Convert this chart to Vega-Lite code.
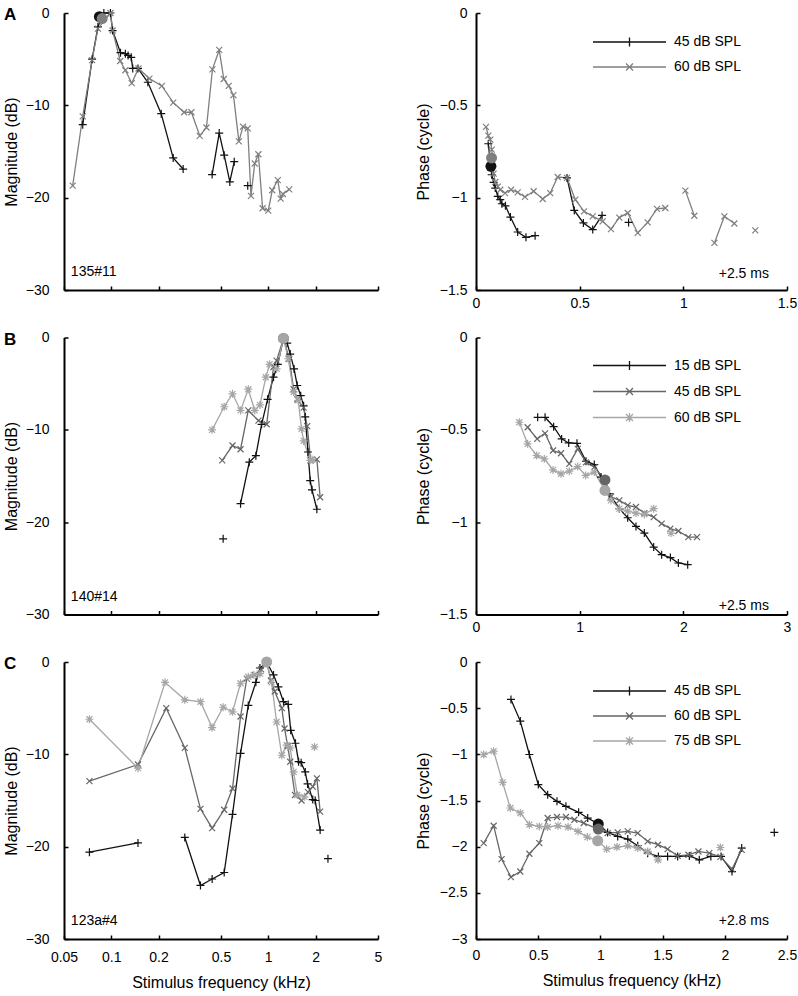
{
"$schema": "https://vega.github.io/schema/vega-lite/v6.json",
"padding": {"left": 3, "top": 6, "right": 5, "bottom": 5},
"background": "white",
"config": {
 "font": "Liberation Sans",
 "view": {"stroke": null},
 "axis": {"grid": false, "domainColor": "#000", "domainWidth": 2, "tickColor": "#000", "tickWidth": 1.5, "tickSize": -4, "labelColor": "#000", "labelFontSize": 14, "labelFont": "Liberation Sans", "titleFont": "Liberation Sans", "titleFontSize": 16, "titleFontWeight": "normal", "titleColor": "#000", "labelFlush": false, "labelOverlap": false},
 "legend": {"labelFontSize": 14, "labelColor": "#000", "labelFont": "Liberation Sans"},
 "text": {"font": "Liberation Sans", "fontSize": 14, "color": "#000"}
},
"datasets": {
 "magA": [
  {"f":0.0658,"v":-12.1,"lev":"45 dB SPL","seg":1},{"f":0.0755,"v":-5.0,"lev":"45 dB SPL","seg":1},{"f":0.0822,"v":-1.5,"lev":"45 dB SPL","seg":1},{"f":0.0897,"v":0,"lev":"45 dB SPL","seg":1},{"f":0.0988,"v":0,"lev":"45 dB SPL","seg":1},{"f":0.102,"v":-1.9,"lev":"45 dB SPL","seg":1},{"f":0.1145,"v":-4.3,"lev":"45 dB SPL","seg":1},{"f":0.123,"v":-4.4,"lev":"45 dB SPL","seg":1},{"f":0.128,"v":-4.6,"lev":"45 dB SPL","seg":1},{"f":0.134,"v":-4.8,"lev":"45 dB SPL","seg":1},{"f":0.137,"v":-6.0,"lev":"45 dB SPL","seg":1},{"f":0.148,"v":-6.0,"lev":"45 dB SPL","seg":1},{"f":0.171,"v":-7.5,"lev":"45 dB SPL","seg":1},{"f":0.208,"v":-10.9,"lev":"45 dB SPL","seg":1},{"f":0.248,"v":-15.7,"lev":"45 dB SPL","seg":1},{"f":0.287,"v":-16.9,"lev":"45 dB SPL","seg":1},
  {"f":0.439,"v":-17.5,"lev":"45 dB SPL","seg":2},{"f":0.487,"v":-13.0,"lev":"45 dB SPL","seg":2},{"f":0.524,"v":-15.4,"lev":"45 dB SPL","seg":2},{"f":0.569,"v":-18.3,"lev":"45 dB SPL","seg":2},{"f":0.607,"v":-16.1,"lev":"45 dB SPL","seg":2},
  {"f":0.74,"v":-18.7,"lev":"45 dB SPL","seg":3},
  {"f":0.0568,"v":-18.7,"lev":"60 dB SPL","seg":1},{"f":0.0658,"v":-11.2,"lev":"60 dB SPL","seg":1},{"f":0.0755,"v":-5.1,"lev":"60 dB SPL","seg":1},{"f":0.0822,"v":-1.7,"lev":"60 dB SPL","seg":1},{"f":0.0988,"v":0,"lev":"60 dB SPL","seg":1},{"f":0.102,"v":-1.9,"lev":"60 dB SPL","seg":1},{"f":0.114,"v":-5.2,"lev":"60 dB SPL","seg":1},{"f":0.123,"v":-6.2,"lev":"60 dB SPL","seg":1},{"f":0.135,"v":-7.6,"lev":"60 dB SPL","seg":1},{"f":0.149,"v":-6.0,"lev":"60 dB SPL","seg":1},{"f":0.175,"v":-7.1,"lev":"60 dB SPL","seg":1},{"f":0.21,"v":-7.9,"lev":"60 dB SPL","seg":1},{"f":0.248,"v":-9.7,"lev":"60 dB SPL","seg":1},{"f":0.291,"v":-10.75,"lev":"60 dB SPL","seg":1},{"f":0.324,"v":-10.75,"lev":"60 dB SPL","seg":1},{"f":0.366,"v":-13.3,"lev":"60 dB SPL","seg":1},{"f":0.404,"v":-12.4,"lev":"60 dB SPL","seg":1},{"f":0.441,"v":-6.1,"lev":"60 dB SPL","seg":1},{"f":0.487,"v":-4.0,"lev":"60 dB SPL","seg":1},{"f":0.521,"v":-7.15,"lev":"60 dB SPL","seg":1},{"f":0.56,"v":-7.9,"lev":"60 dB SPL","seg":1},{"f":0.6,"v":-8.9,"lev":"60 dB SPL","seg":1},{"f":0.65,"v":-13.9,"lev":"60 dB SPL","seg":1},{"f":0.69,"v":-12.3,"lev":"60 dB SPL","seg":1},{"f":0.74,"v":-12.5,"lev":"60 dB SPL","seg":1},{"f":0.776,"v":-19.8,"lev":"60 dB SPL","seg":1},{"f":0.82,"v":-16.3,"lev":"60 dB SPL","seg":1},{"f":0.865,"v":-15.3,"lev":"60 dB SPL","seg":1},{"f":0.92,"v":-21.15,"lev":"60 dB SPL","seg":1},{"f":1.0,"v":-21.4,"lev":"60 dB SPL","seg":1},{"f":1.06,"v":-19.2,"lev":"60 dB SPL","seg":1},{"f":1.15,"v":-18.1,"lev":"60 dB SPL","seg":1},{"f":1.2,"v":-20.1,"lev":"60 dB SPL","seg":1},{"f":1.24,"v":-19.6,"lev":"60 dB SPL","seg":1},{"f":1.36,"v":-19.1,"lev":"60 dB SPL","seg":1}
 ],
 "phA": [
  {"f":0.0595,"v":-0.708,"lev":"45 dB SPL","seg":1},{"f":0.0756,"v":-0.876,"lev":"45 dB SPL","seg":1},{"f":0.085,"v":-0.917,"lev":"45 dB SPL","seg":1},{"f":0.093,"v":-0.948,"lev":"45 dB SPL","seg":1},{"f":0.105,"v":-0.993,"lev":"45 dB SPL","seg":1},{"f":0.117,"v":-1.011,"lev":"45 dB SPL","seg":1},{"f":0.125,"v":-1.033,"lev":"45 dB SPL","seg":1},{"f":0.142,"v":-1.044,"lev":"45 dB SPL","seg":1},{"f":0.166,"v":-1.105,"lev":"45 dB SPL","seg":1},{"f":0.201,"v":-1.186,"lev":"45 dB SPL","seg":1},{"f":0.241,"v":-1.215,"lev":"45 dB SPL","seg":1},{"f":0.285,"v":-1.206,"lev":"45 dB SPL","seg":1},
  {"f":0.439,"v":-0.893,"lev":"45 dB SPL","seg":2},{"f":0.474,"v":-1.069,"lev":"45 dB SPL","seg":2},{"f":0.518,"v":-1.137,"lev":"45 dB SPL","seg":2},{"f":0.563,"v":-1.173,"lev":"45 dB SPL","seg":2},{"f":0.608,"v":-1.096,"lev":"45 dB SPL","seg":2},
  {"f":0.736,"v":-1.134,"lev":"45 dB SPL","seg":3},
  {"f":0.048,"v":-0.617,"lev":"60 dB SPL","seg":1},{"f":0.0595,"v":-0.664,"lev":"60 dB SPL","seg":1},{"f":0.069,"v":-0.686,"lev":"60 dB SPL","seg":1},{"f":0.076,"v":-0.74,"lev":"60 dB SPL","seg":1},{"f":0.085,"v":-0.87,"lev":"60 dB SPL","seg":1},{"f":0.093,"v":-0.915,"lev":"60 dB SPL","seg":1},{"f":0.105,"v":-0.94,"lev":"60 dB SPL","seg":1},{"f":0.117,"v":-0.957,"lev":"60 dB SPL","seg":1},{"f":0.14,"v":-0.975,"lev":"60 dB SPL","seg":1},{"f":0.169,"v":-0.957,"lev":"60 dB SPL","seg":1},{"f":0.201,"v":-0.971,"lev":"60 dB SPL","seg":1},{"f":0.236,"v":-0.996,"lev":"60 dB SPL","seg":1},{"f":0.278,"v":-0.965,"lev":"60 dB SPL","seg":1},{"f":0.322,"v":-1.007,"lev":"60 dB SPL","seg":1},{"f":0.358,"v":-0.975,"lev":"60 dB SPL","seg":1},{"f":0.394,"v":-0.888,"lev":"60 dB SPL","seg":1},{"f":0.439,"v":-0.893,"lev":"60 dB SPL","seg":1},{"f":0.479,"v":-1.011,"lev":"60 dB SPL","seg":1},{"f":0.521,"v":-1.074,"lev":"60 dB SPL","seg":1},{"f":0.563,"v":-1.101,"lev":"60 dB SPL","seg":1},{"f":0.611,"v":-1.128,"lev":"60 dB SPL","seg":1},{"f":0.651,"v":-1.17,"lev":"60 dB SPL","seg":1},{"f":0.691,"v":-1.108,"lev":"60 dB SPL","seg":1},{"f":0.732,"v":-1.083,"lev":"60 dB SPL","seg":1},{"f":0.78,"v":-1.191,"lev":"60 dB SPL","seg":1},{"f":0.828,"v":-1.134,"lev":"60 dB SPL","seg":1},{"f":0.873,"v":-1.061,"lev":"60 dB SPL","seg":1},{"f":0.913,"v":-1.056,"lev":"60 dB SPL","seg":1},
  {"f":1.01,"v":-0.962,"lev":"60 dB SPL","seg":2},{"f":1.053,"v":-1.098,"lev":"60 dB SPL","seg":2},
  {"f":1.15,"v":-1.245,"lev":"60 dB SPL","seg":3},{"f":1.198,"v":-1.101,"lev":"60 dB SPL","seg":3},{"f":1.246,"v":-1.14,"lev":"60 dB SPL","seg":3},
  {"f":1.347,"v":-1.177,"lev":"60 dB SPL","seg":4}
 ],
 "magB": [
  {"f":0.516,"v":-21.8,"lev":"15 dB SPL","seg":1},
  {"f":0.666,"v":-18.0,"lev":"15 dB SPL","seg":2},{"f":0.757,"v":-13.5,"lev":"15 dB SPL","seg":2},{"f":0.834,"v":-12.8,"lev":"15 dB SPL","seg":2},{"f":0.907,"v":-9.4,"lev":"15 dB SPL","seg":2},{"f":0.99,"v":-6.7,"lev":"15 dB SPL","seg":2},{"f":1.08,"v":-4.3,"lev":"15 dB SPL","seg":2},{"f":1.15,"v":-2.9,"lev":"15 dB SPL","seg":2},{"f":1.25,"v":-0.1,"lev":"15 dB SPL","seg":2},{"f":1.32,"v":-0.6,"lev":"15 dB SPL","seg":2},{"f":1.38,"v":-1.8,"lev":"15 dB SPL","seg":2},{"f":1.46,"v":-3.4,"lev":"15 dB SPL","seg":2},{"f":1.53,"v":-5.2,"lev":"15 dB SPL","seg":2},{"f":1.61,"v":-6.3,"lev":"15 dB SPL","seg":2},{"f":1.68,"v":-7.4,"lev":"15 dB SPL","seg":2},{"f":1.72,"v":-8.6,"lev":"15 dB SPL","seg":2},{"f":1.79,"v":-12.4,"lev":"15 dB SPL","seg":2},{"f":1.85,"v":-15.5,"lev":"15 dB SPL","seg":2},{"f":1.9,"v":-16.5,"lev":"15 dB SPL","seg":2},{"f":2.04,"v":-18.6,"lev":"15 dB SPL","seg":2},
  {"f":0.509,"v":-13.3,"lev":"45 dB SPL","seg":1},{"f":0.592,"v":-11.7,"lev":"45 dB SPL","seg":1},{"f":0.666,"v":-12.1,"lev":"45 dB SPL","seg":1},{"f":0.746,"v":-7.9,"lev":"45 dB SPL","seg":1},{"f":0.866,"v":-9.0,"lev":"45 dB SPL","seg":1},{"f":0.977,"v":-9.4,"lev":"45 dB SPL","seg":1},{"f":1.08,"v":-3.2,"lev":"45 dB SPL","seg":1},{"f":1.13,"v":-2.5,"lev":"45 dB SPL","seg":1},{"f":1.25,"v":-0.1,"lev":"45 dB SPL","seg":1},{"f":1.36,"v":-2.3,"lev":"45 dB SPL","seg":1},{"f":1.45,"v":-5.6,"lev":"45 dB SPL","seg":1},{"f":1.53,"v":-6.7,"lev":"45 dB SPL","seg":1},{"f":1.68,"v":-7.6,"lev":"45 dB SPL","seg":1},{"f":1.77,"v":-9.6,"lev":"45 dB SPL","seg":1},{"f":1.86,"v":-13.3,"lev":"45 dB SPL","seg":1},{"f":2.04,"v":-13.2,"lev":"45 dB SPL","seg":1},{"f":2.14,"v":-17.3,"lev":"45 dB SPL","seg":1},
  {"f":0.439,"v":-10.0,"lev":"60 dB SPL","seg":1},{"f":0.524,"v":-7.5,"lev":"60 dB SPL","seg":1},{"f":0.592,"v":-6.1,"lev":"60 dB SPL","seg":1},{"f":0.666,"v":-7.9,"lev":"60 dB SPL","seg":1},{"f":0.746,"v":-5.6,"lev":"60 dB SPL","seg":1},{"f":0.82,"v":-7.9,"lev":"60 dB SPL","seg":1},{"f":0.885,"v":-7.3,"lev":"60 dB SPL","seg":1},{"f":0.965,"v":-4.3,"lev":"60 dB SPL","seg":1},{"f":1.02,"v":-2.9,"lev":"60 dB SPL","seg":1},{"f":1.13,"v":-3.4,"lev":"60 dB SPL","seg":1},{"f":1.25,"v":-0.1,"lev":"60 dB SPL","seg":1},{"f":1.34,"v":-2.3,"lev":"60 dB SPL","seg":1},{"f":1.45,"v":-5.9,"lev":"60 dB SPL","seg":1},{"f":1.55,"v":-6.8,"lev":"60 dB SPL","seg":1},{"f":1.63,"v":-9.9,"lev":"60 dB SPL","seg":1},{"f":1.68,"v":-11.2,"lev":"60 dB SPL","seg":1},{"f":1.85,"v":-13.3,"lev":"60 dB SPL","seg":1},{"f":1.9,"v":-13.2,"lev":"60 dB SPL","seg":1}
 ],
 "phB": [
  {"f":0.595,"v":-0.432,"lev":"15 dB SPL","seg":1},
  {"f":0.666,"v":-0.432,"lev":"15 dB SPL","seg":2},{"f":0.749,"v":-0.483,"lev":"15 dB SPL","seg":2},{"f":0.826,"v":-0.549,"lev":"15 dB SPL","seg":2},{"f":0.894,"v":-0.571,"lev":"15 dB SPL","seg":2},{"f":0.974,"v":-0.573,"lev":"15 dB SPL","seg":2},{"f":1.061,"v":-0.67,"lev":"15 dB SPL","seg":2},{"f":1.141,"v":-0.688,"lev":"15 dB SPL","seg":2},{"f":1.206,"v":-0.756,"lev":"15 dB SPL","seg":2},{"f":1.286,"v":-0.846,"lev":"15 dB SPL","seg":2},{"f":1.383,"v":-0.927,"lev":"15 dB SPL","seg":2},{"f":1.463,"v":-0.976,"lev":"15 dB SPL","seg":2},{"f":1.543,"v":-1.023,"lev":"15 dB SPL","seg":2},{"f":1.624,"v":-1.059,"lev":"15 dB SPL","seg":2},{"f":1.714,"v":-1.135,"lev":"15 dB SPL","seg":2},{"f":1.791,"v":-1.176,"lev":"15 dB SPL","seg":2},{"f":1.875,"v":-1.192,"lev":"15 dB SPL","seg":2},{"f":1.952,"v":-1.221,"lev":"15 dB SPL","seg":2},{"f":2.042,"v":-1.23,"lev":"15 dB SPL","seg":2},
  {"f":0.498,"v":-0.486,"lev":"45 dB SPL","seg":1},{"f":0.59,"v":-0.549,"lev":"45 dB SPL","seg":1},{"f":0.666,"v":-0.519,"lev":"45 dB SPL","seg":1},{"f":0.743,"v":-0.612,"lev":"45 dB SPL","seg":1},{"f":0.82,"v":-0.627,"lev":"45 dB SPL","seg":1},{"f":0.9,"v":-0.684,"lev":"45 dB SPL","seg":1},{"f":0.981,"v":-0.603,"lev":"45 dB SPL","seg":1},{"f":1.061,"v":-0.676,"lev":"45 dB SPL","seg":1},{"f":1.141,"v":-0.702,"lev":"45 dB SPL","seg":1},{"f":1.244,"v":-0.771,"lev":"45 dB SPL","seg":1},{"f":1.302,"v":-0.861,"lev":"45 dB SPL","seg":1},{"f":1.383,"v":-0.882,"lev":"45 dB SPL","seg":1},{"f":1.463,"v":-0.909,"lev":"45 dB SPL","seg":1},{"f":1.543,"v":-0.918,"lev":"45 dB SPL","seg":1},{"f":1.624,"v":-0.951,"lev":"45 dB SPL","seg":1},{"f":1.714,"v":-0.973,"lev":"45 dB SPL","seg":1},{"f":1.791,"v":-1.008,"lev":"45 dB SPL","seg":1},{"f":1.875,"v":-1.035,"lev":"45 dB SPL","seg":1},{"f":1.952,"v":-1.048,"lev":"45 dB SPL","seg":1},{"f":2.048,"v":-1.081,"lev":"45 dB SPL","seg":1},{"f":2.132,"v":-1.081,"lev":"45 dB SPL","seg":1},
  {"f":0.418,"v":-0.459,"lev":"60 dB SPL","seg":1},{"f":0.498,"v":-0.576,"lev":"60 dB SPL","seg":1},{"f":0.585,"v":-0.639,"lev":"60 dB SPL","seg":1},{"f":0.659,"v":-0.657,"lev":"60 dB SPL","seg":1},{"f":0.743,"v":-0.717,"lev":"60 dB SPL","seg":1},{"f":0.82,"v":-0.738,"lev":"60 dB SPL","seg":1},{"f":0.9,"v":-0.724,"lev":"60 dB SPL","seg":1},{"f":0.981,"v":-0.699,"lev":"60 dB SPL","seg":1},{"f":1.058,"v":-0.747,"lev":"60 dB SPL","seg":1},{"f":1.141,"v":-0.729,"lev":"60 dB SPL","seg":1},{"f":1.244,"v":-0.828,"lev":"60 dB SPL","seg":1},{"f":1.302,"v":-0.882,"lev":"60 dB SPL","seg":1},{"f":1.383,"v":-0.927,"lev":"60 dB SPL","seg":1},{"f":1.463,"v":-0.94,"lev":"60 dB SPL","seg":1},{"f":1.543,"v":-0.951,"lev":"60 dB SPL","seg":1},{"f":1.624,"v":-0.958,"lev":"60 dB SPL","seg":1},{"f":1.714,"v":-0.927,"lev":"60 dB SPL","seg":1},
  {"f":1.881,"v":-1.059,"lev":"60 dB SPL","seg":2}
 ],
 "magC": [
  {"f":0.0726,"v":-20.6,"lev":"45 dB SPL","seg":1},{"f":0.148,"v":-19.6,"lev":"45 dB SPL","seg":1},
  {"f":0.294,"v":-19.0,"lev":"45 dB SPL","seg":2},{"f":0.37,"v":-24.2,"lev":"45 dB SPL","seg":2},{"f":0.439,"v":-23.5,"lev":"45 dB SPL","seg":2},{"f":0.524,"v":-22.8,"lev":"45 dB SPL","seg":2},{"f":0.592,"v":-16.5,"lev":"45 dB SPL","seg":2},{"f":0.666,"v":-9.9,"lev":"45 dB SPL","seg":2},{"f":0.746,"v":-4.7,"lev":"45 dB SPL","seg":2},{"f":0.834,"v":-2.2,"lev":"45 dB SPL","seg":2},{"f":0.885,"v":-0.65,"lev":"45 dB SPL","seg":2},{"f":0.977,"v":0,"lev":"45 dB SPL","seg":2},{"f":1.08,"v":-1.4,"lev":"45 dB SPL","seg":2},{"f":1.16,"v":-2.7,"lev":"45 dB SPL","seg":2},{"f":1.25,"v":-4.3,"lev":"45 dB SPL","seg":2},{"f":1.34,"v":-4.6,"lev":"45 dB SPL","seg":2},{"f":1.39,"v":-7.4,"lev":"45 dB SPL","seg":2},{"f":1.49,"v":-8.8,"lev":"45 dB SPL","seg":2},{"f":1.56,"v":-10.8,"lev":"45 dB SPL","seg":2},{"f":1.62,"v":-10.9,"lev":"45 dB SPL","seg":2},{"f":1.72,"v":-11.9,"lev":"45 dB SPL","seg":2},{"f":1.78,"v":-13.2,"lev":"45 dB SPL","seg":2},{"f":1.92,"v":-14.9,"lev":"45 dB SPL","seg":2},{"f":1.99,"v":-15.0,"lev":"45 dB SPL","seg":2},{"f":2.14,"v":-18.2,"lev":"45 dB SPL","seg":2},
  {"f":2.4,"v":-21.3,"lev":"45 dB SPL","seg":3},
  {"f":0.0726,"v":-12.9,"lev":"60 dB SPL","seg":1},{"f":0.148,"v":-11.1,"lev":"60 dB SPL","seg":1},{"f":0.224,"v":-5.0,"lev":"60 dB SPL","seg":1},{"f":0.294,"v":-9.3,"lev":"60 dB SPL","seg":1},{"f":0.37,"v":-15.9,"lev":"60 dB SPL","seg":1},{"f":0.439,"v":-18.0,"lev":"60 dB SPL","seg":1},{"f":0.524,"v":-16.0,"lev":"60 dB SPL","seg":1},{"f":0.592,"v":-13.7,"lev":"60 dB SPL","seg":1},{"f":0.666,"v":-5.9,"lev":"60 dB SPL","seg":1},{"f":0.73,"v":-1.8,"lev":"60 dB SPL","seg":1},{"f":0.82,"v":-1.4,"lev":"60 dB SPL","seg":1},{"f":0.9,"v":-0.8,"lev":"60 dB SPL","seg":1},{"f":0.977,"v":0,"lev":"60 dB SPL","seg":1},{"f":1.04,"v":-2.0,"lev":"60 dB SPL","seg":1},{"f":1.1,"v":-3.2,"lev":"60 dB SPL","seg":1},{"f":1.22,"v":-5.0,"lev":"60 dB SPL","seg":1},{"f":1.27,"v":-7.2,"lev":"60 dB SPL","seg":1},{"f":1.33,"v":-9.1,"lev":"60 dB SPL","seg":1},{"f":1.38,"v":-10.8,"lev":"60 dB SPL","seg":1},{"f":1.48,"v":-14.4,"lev":"60 dB SPL","seg":1},{"f":1.63,"v":-15.0,"lev":"60 dB SPL","seg":1},{"f":1.79,"v":-14.1,"lev":"60 dB SPL","seg":1},{"f":1.92,"v":-13.5,"lev":"60 dB SPL","seg":1},{"f":2.04,"v":-12.6,"lev":"60 dB SPL","seg":1},{"f":2.14,"v":-16.2,"lev":"60 dB SPL","seg":1},
  {"f":0.0726,"v":-6.2,"lev":"75 dB SPL","seg":1},{"f":0.148,"v":-11.5,"lev":"75 dB SPL","seg":1},{"f":0.22,"v":-2.2,"lev":"75 dB SPL","seg":1},{"f":0.294,"v":-4.1,"lev":"75 dB SPL","seg":1},{"f":0.37,"v":-4.3,"lev":"75 dB SPL","seg":1},{"f":0.439,"v":-7.1,"lev":"75 dB SPL","seg":1},{"f":0.516,"v":-4.9,"lev":"75 dB SPL","seg":1},{"f":0.592,"v":-5.4,"lev":"75 dB SPL","seg":1},{"f":0.666,"v":-2.3,"lev":"75 dB SPL","seg":1},{"f":0.746,"v":-1.6,"lev":"75 dB SPL","seg":1},{"f":0.81,"v":-1.4,"lev":"75 dB SPL","seg":1},{"f":0.885,"v":-1.26,"lev":"75 dB SPL","seg":1},{"f":0.977,"v":0,"lev":"75 dB SPL","seg":1},{"f":1.05,"v":-2.2,"lev":"75 dB SPL","seg":1},{"f":1.13,"v":-6.5,"lev":"75 dB SPL","seg":1},{"f":1.22,"v":-10.1,"lev":"75 dB SPL","seg":1},{"f":1.31,"v":-9.0,"lev":"75 dB SPL","seg":1},{"f":1.38,"v":-9.3,"lev":"75 dB SPL","seg":1},{"f":1.45,"v":-11.9,"lev":"75 dB SPL","seg":1},{"f":1.53,"v":-14.4,"lev":"75 dB SPL","seg":1},{"f":1.7,"v":-14.6,"lev":"75 dB SPL","seg":1},
  {"f":1.97,"v":-9.2,"lev":"75 dB SPL","seg":2}
 ],
 "phC": [
  {"f":0.281,"v":-0.405,"lev":"45 dB SPL","seg":1},{"f":0.356,"v":-0.64,"lev":"45 dB SPL","seg":1},{"f":0.429,"v":-1.002,"lev":"45 dB SPL","seg":1},{"f":0.501,"v":-1.328,"lev":"45 dB SPL","seg":1},{"f":0.576,"v":-1.437,"lev":"45 dB SPL","seg":1},{"f":0.651,"v":-1.509,"lev":"45 dB SPL","seg":1},{"f":0.723,"v":-1.563,"lev":"45 dB SPL","seg":1},{"f":0.825,"v":-1.628,"lev":"45 dB SPL","seg":1},{"f":0.898,"v":-1.69,"lev":"45 dB SPL","seg":1},{"f":0.983,"v":-1.755,"lev":"45 dB SPL","seg":1},{"f":1.058,"v":-1.846,"lev":"45 dB SPL","seg":1},{"f":1.139,"v":-1.889,"lev":"45 dB SPL","seg":1},{"f":1.22,"v":-1.918,"lev":"45 dB SPL","seg":1},{"f":1.3,"v":-1.99,"lev":"45 dB SPL","seg":1},{"f":1.38,"v":-2.07,"lev":"45 dB SPL","seg":1},{"f":1.466,"v":-2.106,"lev":"45 dB SPL","seg":1},{"f":1.54,"v":-2.106,"lev":"45 dB SPL","seg":1},{"f":1.621,"v":-2.106,"lev":"45 dB SPL","seg":1},{"f":1.715,"v":-2.1,"lev":"45 dB SPL","seg":1},{"f":1.795,"v":-2.142,"lev":"45 dB SPL","seg":1},{"f":1.888,"v":-2.106,"lev":"45 dB SPL","seg":1},{"f":1.97,"v":-2.106,"lev":"45 dB SPL","seg":1},{"f":2.058,"v":-2.27,"lev":"45 dB SPL","seg":1},{"f":2.136,"v":-2.015,"lev":"45 dB SPL","seg":1},
  {"f":2.398,"v":-1.846,"lev":"45 dB SPL","seg":2},
  {"f":0.062,"v":-1.961,"lev":"60 dB SPL","seg":1},{"f":0.142,"v":-1.773,"lev":"60 dB SPL","seg":1},{"f":0.206,"v":-2.135,"lev":"60 dB SPL","seg":1},{"f":0.281,"v":-2.33,"lev":"60 dB SPL","seg":1},{"f":0.356,"v":-2.269,"lev":"60 dB SPL","seg":1},{"f":0.429,"v":-2.077,"lev":"60 dB SPL","seg":1},{"f":0.509,"v":-1.961,"lev":"60 dB SPL","seg":1},{"f":0.576,"v":-1.69,"lev":"60 dB SPL","seg":1},{"f":0.651,"v":-1.679,"lev":"60 dB SPL","seg":1},{"f":0.723,"v":-1.679,"lev":"60 dB SPL","seg":1},{"f":0.791,"v":-1.708,"lev":"60 dB SPL","seg":1},{"f":0.866,"v":-1.744,"lev":"60 dB SPL","seg":1},{"f":0.983,"v":-1.81,"lev":"60 dB SPL","seg":1},{"f":1.058,"v":-1.853,"lev":"60 dB SPL","seg":1},{"f":1.139,"v":-1.846,"lev":"60 dB SPL","seg":1},{"f":1.22,"v":-1.835,"lev":"60 dB SPL","seg":1},{"f":1.3,"v":-1.853,"lev":"60 dB SPL","seg":1},{"f":1.38,"v":-1.943,"lev":"60 dB SPL","seg":1},{"f":1.463,"v":-1.979,"lev":"60 dB SPL","seg":1},{"f":1.54,"v":-2.026,"lev":"60 dB SPL","seg":1},{"f":1.621,"v":-2.1,"lev":"60 dB SPL","seg":1},{"f":1.708,"v":-2.088,"lev":"60 dB SPL","seg":1},{"f":1.788,"v":-2.052,"lev":"60 dB SPL","seg":1},{"f":1.875,"v":-2.07,"lev":"60 dB SPL","seg":1},{"f":1.965,"v":-2.11,"lev":"60 dB SPL","seg":1},{"f":2.058,"v":-2.243,"lev":"60 dB SPL","seg":1},{"f":2.136,"v":-2.034,"lev":"60 dB SPL","seg":1},
  {"f":0.062,"v":-1.002,"lev":"75 dB SPL","seg":1},{"f":0.142,"v":-0.966,"lev":"75 dB SPL","seg":1},{"f":0.214,"v":-1.303,"lev":"75 dB SPL","seg":1},{"f":0.276,"v":-1.581,"lev":"75 dB SPL","seg":1},{"f":0.356,"v":-1.635,"lev":"75 dB SPL","seg":1},{"f":0.429,"v":-1.762,"lev":"75 dB SPL","seg":1},{"f":0.509,"v":-1.781,"lev":"75 dB SPL","seg":1},{"f":0.576,"v":-1.787,"lev":"75 dB SPL","seg":1},{"f":0.659,"v":-1.773,"lev":"75 dB SPL","seg":1},{"f":0.74,"v":-1.787,"lev":"75 dB SPL","seg":1},{"f":0.82,"v":-1.835,"lev":"75 dB SPL","seg":1},{"f":0.895,"v":-1.896,"lev":"75 dB SPL","seg":1},{"f":0.978,"v":-1.936,"lev":"75 dB SPL","seg":1},{"f":1.05,"v":-2.026,"lev":"75 dB SPL","seg":1},{"f":1.133,"v":-2.004,"lev":"75 dB SPL","seg":1},{"f":1.22,"v":-1.99,"lev":"75 dB SPL","seg":1},{"f":1.3,"v":-2.015,"lev":"75 dB SPL","seg":1},{"f":1.38,"v":-2.052,"lev":"75 dB SPL","seg":1},{"f":1.463,"v":-2.142,"lev":"75 dB SPL","seg":1},
  {"f":1.964,"v":-2.009,"lev":"75 dB SPL","seg":2}
 ],
 "cf": [
  {"panel":"mA","f":0.084,"v":-0.4,"lev":"45 dB SPL"},{"panel":"mA","f":0.0875,"v":-0.6,"lev":"60 dB SPL"},
  {"panel":"pA","f":0.072,"v":-0.83,"lev":"45 dB SPL"},{"panel":"pA","f":0.075,"v":-0.785,"lev":"60 dB SPL"},
  {"panel":"mB","f":1.25,"v":-0.1,"lev":"45 dB SPL"},{"panel":"mB","f":1.25,"v":-0.1,"lev":"60 dB SPL"},
  {"panel":"pB","f":1.244,"v":-0.771,"lev":"45 dB SPL"},{"panel":"pB","f":1.244,"v":-0.828,"lev":"60 dB SPL"},
  {"panel":"mC","f":0.977,"v":0,"lev":"75 dB SPL"},
  {"panel":"pC","f":0.983,"v":-1.755,"lev":"45 dB SPL"},{"panel":"pC","f":0.983,"v":-1.81,"lev":"60 dB SPL"},{"panel":"pC","f":0.978,"v":-1.936,"lev":"75 dB SPL"}
 ],
 "notes": [
  {"panel":"mA","f":0.0553,"v":-28.1,"label":"135#11"},
  {"panel":"pA","f":1.413,"v":-1.413,"label":"+2.5 ms"},
  {"panel":"mB","f":0.0553,"v":-28.1,"label":"140#14"},
  {"panel":"pB","f":2.826,"v":-1.455,"label":"+2.5 ms"},
  {"panel":"mC","f":0.0553,"v":-28.1,"label":"123a#4"},
  {"panel":"pC","f":2.355,"v":-2.805,"label":"+2.8 ms"}
 ]
},
"columns": 2,
"spacing": {"row": 47.5, "column": 98},
"bounds": "flush",
"resolve": {"scale": {"color": "independent", "stroke": "independent", "fill": "independent", "shape": "independent", "x": "independent", "y": "independent"}, "legend": {"color": "independent", "stroke": "independent", "fill": "independent", "shape": "independent"}},
"concat": [
  {"width": 314, "height": 277,
   "title": {"text": "A", "anchor": "start", "frame": "group", "dx": -60, "dy": 18, "offset": 0, "baseline": "top", "fontSize": 17, "fontWeight": "bold", "color": "#000"},
   "encoding": {
    "x": {"field": "f", "type": "quantitative", "scale": {"type": "log", "domain": [0.05, 5], "nice": false}, "axis": {"values": [0.05, 0.1, 0.2, 0.5, 1, 2, 5], "labels": false, "title": null}},
    "y": {"field": "v", "type": "quantitative", "scale": {"domain": [-30, 0], "nice": false, "zero": false}, "axis": {"values": [0, -10, -20, -30], "format": "d", "title": "Magnitude (dB)", "labelPadding": 19, "titlePadding": 6}}
   },
   "layer": [
    {"data": {"name": "magA"}, "mark": {"type": "line", "strokeWidth": 1.3}, "encoding": {"stroke": {"field": "lev", "type": "nominal", "scale": {"domain": ["45 dB SPL", "60 dB SPL"], "range": ["#111111", "#7f7f7f"]}, "legend": null}, "detail": {"field": "seg"}}},
    {"data": {"name": "magA"}, "mark": {"type": "point", "filled": false, "size": 64, "strokeWidth": 1.2, "opacity": 1}, "encoding": {"color": {"field": "lev", "type": "nominal", "scale": {"domain": ["45 dB SPL", "60 dB SPL"], "range": ["#111111", "#7f7f7f"]}, "legend": null}, "shape": {"field": "lev", "type": "nominal", "scale": {"domain": ["45 dB SPL", "60 dB SPL"], "range": ["M-1,0H1M0,-1V1", "M-0.75,-0.75L0.75,0.75M-0.75,0.75L0.75,-0.75"]}, "legend": null}}},
    {"data": {"name": "cf"}, "transform": [{"filter": "datum.panel === 'mA'"}], "mark": {"type": "circle", "size": 121, "opacity": 1}, "encoding": {"fill": {"field": "lev", "type": "nominal", "scale": {"domain": ["45 dB SPL", "60 dB SPL"], "range": ["#111111", "#7f7f7f"]}, "legend": null}}},
    {"data": {"name": "notes"}, "transform": [{"filter": "datum.panel === 'mA'"}], "mark": {"type": "text", "align": "left", "baseline": "middle", "fontSize": 14}, "encoding": {"text": {"field": "label"}}}
   ]
  },
  {"width": 311, "height": 277,
   "encoding": {
    "x": {"field": "f", "type": "quantitative", "scale": {"domain": [0, 1.5], "nice": false}, "axis": {"values": [0, 0.5, 1, 1.5], "format": "~g", "title": null, "labelPadding": 10}},
    "y": {"field": "v", "type": "quantitative", "scale": {"domain": [-1.5, 0], "nice": false, "zero": false}, "axis": {"values": [0, -0.5, -1, -1.5], "format": "~g", "title": "Phase (cycle)", "labelPadding": 13, "titlePadding": 8}}
   },
   "layer": [
    {"data": {"name": "phA"}, "mark": {"type": "line", "strokeWidth": 1.3}, "encoding": {"stroke": {"field": "lev", "type": "nominal", "scale": {"domain": ["45 dB SPL", "60 dB SPL"], "range": ["#111111", "#7f7f7f"]}}, "detail": {"field": "seg"}}},
    {"data": {"name": "phA"}, "mark": {"type": "point", "filled": false, "opacity": 0}, "encoding": {
      "color": {"field": "lev", "type": "nominal", "scale": {"domain": ["45 dB SPL", "60 dB SPL"], "range": ["#111111", "#7f7f7f"]}, "legend": {"orient": "none", "legendX": 117, "legendY": 22, "title": null, "labelFontSize": 14, "symbolSize": 4, "symbolStrokeWidth": 1.3, "symbolOpacity": 1, "labelOffset": 67, "rowPadding": 10, "padding": 0}},
      "shape": {"field": "lev", "type": "nominal", "scale": {"domain": ["45 dB SPL", "60 dB SPL"], "range": ["M-7,0H66M29.5,-4.5V4.5", "M-7,0H66M26,-3.5L33,3.5M26,3.5L33,-3.5"]}}}},
    {"data": {"name": "phA"}, "transform": [{"filter": "datum.lev === '45 dB SPL'"}], "mark": {"type": "point", "filled": false, "size": 64, "strokeWidth": 1.2, "opacity": 1, "shape": "M-1,0H1M0,-1V1"}, "encoding": {"color": {"field": "lev", "type": "nominal", "scale": {"domain": ["45 dB SPL", "60 dB SPL"], "range": ["#111111", "#7f7f7f"]}}}},
    {"data": {"name": "phA"}, "transform": [{"filter": "datum.lev === '60 dB SPL'"}], "mark": {"type": "point", "filled": false, "size": 64, "strokeWidth": 1.2, "opacity": 1, "shape": "M-0.75,-0.75L0.75,0.75M-0.75,0.75L0.75,-0.75"}, "encoding": {"color": {"field": "lev", "type": "nominal", "scale": {"domain": ["45 dB SPL", "60 dB SPL"], "range": ["#111111", "#7f7f7f"]}}}},
    {"data": {"name": "cf"}, "transform": [{"filter": "datum.panel === 'pA'"}], "mark": {"type": "circle", "size": 121, "opacity": 1}, "encoding": {"fill": {"field": "lev", "type": "nominal", "scale": {"domain": ["45 dB SPL", "60 dB SPL"], "range": ["#111111", "#7f7f7f"]}}}},
    {"data": {"name": "notes"}, "transform": [{"filter": "datum.panel === 'pA'"}], "mark": {"type": "text", "align": "right", "baseline": "middle", "fontSize": 14}, "encoding": {"text": {"field": "label"}}}
   ]
  },
  {"width": 314, "height": 277,
   "title": {"text": "B", "anchor": "start", "frame": "group", "dx": -60, "dy": 18, "offset": 0, "baseline": "top", "fontSize": 17, "fontWeight": "bold", "color": "#000"},
   "encoding": {
    "x": {"field": "f", "type": "quantitative", "scale": {"type": "log", "domain": [0.05, 5], "nice": false}, "axis": {"values": [0.05, 0.1, 0.2, 0.5, 1, 2, 5], "labels": false, "title": null}},
    "y": {"field": "v", "type": "quantitative", "scale": {"domain": [-30, 0], "nice": false, "zero": false}, "axis": {"values": [0, -10, -20, -30], "format": "d", "title": "Magnitude (dB)", "labelPadding": 19, "titlePadding": 6}}
   },
   "layer": [
    {"data": {"name": "magB"}, "mark": {"type": "line", "strokeWidth": 1.3}, "encoding": {"stroke": {"field": "lev", "type": "nominal", "scale": {"domain": ["15 dB SPL", "45 dB SPL", "60 dB SPL"], "range": ["#111111", "#666666", "#a6a6a6"]}, "legend": null}, "detail": {"field": "seg"}}},
    {"data": {"name": "magB"}, "mark": {"type": "point", "filled": false, "size": 64, "strokeWidth": 1.2, "opacity": 1}, "encoding": {"color": {"field": "lev", "type": "nominal", "scale": {"domain": ["15 dB SPL", "45 dB SPL", "60 dB SPL"], "range": ["#111111", "#666666", "#a6a6a6"]}, "legend": null}, "shape": {"field": "lev", "type": "nominal", "scale": {"domain": ["15 dB SPL", "45 dB SPL", "60 dB SPL"], "range": ["M-1,0H1M0,-1V1", "M-0.75,-0.75L0.75,0.75M-0.75,0.75L0.75,-0.75", "M-1,0H1M0,-1V1M-0.75,-0.75L0.75,0.75M-0.75,0.75L0.75,-0.75"]}, "legend": null}}},
    {"data": {"name": "cf"}, "transform": [{"filter": "datum.panel === 'mB'"}], "mark": {"type": "circle", "size": 121, "opacity": 1}, "encoding": {"fill": {"field": "lev", "type": "nominal", "scale": {"domain": ["15 dB SPL", "45 dB SPL", "60 dB SPL"], "range": ["#111111", "#666666", "#a6a6a6"]}, "legend": null}}},
    {"data": {"name": "notes"}, "transform": [{"filter": "datum.panel === 'mB'"}], "mark": {"type": "text", "align": "left", "baseline": "middle", "fontSize": 14}, "encoding": {"text": {"field": "label"}}}
   ]
  },
  {"width": 311, "height": 277,
   "encoding": {
    "x": {"field": "f", "type": "quantitative", "scale": {"domain": [0, 3], "nice": false}, "axis": {"values": [0, 1, 2, 3], "format": "~g", "title": null, "labelPadding": 10}},
    "y": {"field": "v", "type": "quantitative", "scale": {"domain": [-1.5, 0], "nice": false, "zero": false}, "axis": {"values": [0, -0.5, -1, -1.5], "format": "~g", "title": "Phase (cycle)", "labelPadding": 13, "titlePadding": 8}}
   },
   "layer": [
    {"data": {"name": "phB"}, "mark": {"type": "line", "strokeWidth": 1.3}, "encoding": {"stroke": {"field": "lev", "type": "nominal", "scale": {"domain": ["15 dB SPL", "45 dB SPL", "60 dB SPL"], "range": ["#111111", "#666666", "#a6a6a6"]}}, "detail": {"field": "seg"}}},
    {"data": {"name": "phB"}, "mark": {"type": "point", "filled": false, "opacity": 0}, "encoding": {
      "color": {"field": "lev", "type": "nominal", "scale": {"domain": ["15 dB SPL", "45 dB SPL", "60 dB SPL"], "range": ["#111111", "#666666", "#a6a6a6"]}, "legend": {"orient": "none", "legendX": 117, "legendY": 21, "title": null, "labelFontSize": 14, "symbolSize": 4, "symbolStrokeWidth": 1.3, "symbolOpacity": 1, "labelOffset": 67, "rowPadding": 11, "padding": 0}},
      "shape": {"field": "lev", "type": "nominal", "scale": {"domain": ["15 dB SPL", "45 dB SPL", "60 dB SPL"], "range": ["M-7,0H66M29.5,-4.5V4.5", "M-7,0H66M26,-3.5L33,3.5M26,3.5L33,-3.5", "M-7,0H66M29.5,-4.5V4.5M25,0H34M26,-3.5L33,3.5M26,3.5L33,-3.5"]}}}},
    {"data": {"name": "phB"}, "transform": [{"filter": "datum.lev === '15 dB SPL'"}], "mark": {"type": "point", "filled": false, "size": 64, "strokeWidth": 1.2, "opacity": 1, "shape": "M-1,0H1M0,-1V1"}, "encoding": {"color": {"field": "lev", "type": "nominal", "scale": {"domain": ["15 dB SPL", "45 dB SPL", "60 dB SPL"], "range": ["#111111", "#666666", "#a6a6a6"]}}}},
    {"data": {"name": "phB"}, "transform": [{"filter": "datum.lev === '45 dB SPL'"}], "mark": {"type": "point", "filled": false, "size": 64, "strokeWidth": 1.2, "opacity": 1, "shape": "M-0.75,-0.75L0.75,0.75M-0.75,0.75L0.75,-0.75"}, "encoding": {"color": {"field": "lev", "type": "nominal", "scale": {"domain": ["15 dB SPL", "45 dB SPL", "60 dB SPL"], "range": ["#111111", "#666666", "#a6a6a6"]}}}},
    {"data": {"name": "phB"}, "transform": [{"filter": "datum.lev === '60 dB SPL'"}], "mark": {"type": "point", "filled": false, "size": 64, "strokeWidth": 1.2, "opacity": 1, "shape": "M-1,0H1M0,-1V1M-0.75,-0.75L0.75,0.75M-0.75,0.75L0.75,-0.75"}, "encoding": {"color": {"field": "lev", "type": "nominal", "scale": {"domain": ["15 dB SPL", "45 dB SPL", "60 dB SPL"], "range": ["#111111", "#666666", "#a6a6a6"]}}}},
    {"data": {"name": "cf"}, "transform": [{"filter": "datum.panel === 'pB'"}], "mark": {"type": "circle", "size": 121, "opacity": 1}, "encoding": {"fill": {"field": "lev", "type": "nominal", "scale": {"domain": ["15 dB SPL", "45 dB SPL", "60 dB SPL"], "range": ["#111111", "#666666", "#a6a6a6"]}}}},
    {"data": {"name": "notes"}, "transform": [{"filter": "datum.panel === 'pB'"}], "mark": {"type": "text", "align": "right", "baseline": "middle", "fontSize": 14}, "encoding": {"text": {"field": "label"}}}
   ]
  },
  {"width": 314, "height": 277,
   "title": {"text": "C", "anchor": "start", "frame": "group", "dx": -60, "dy": 18, "offset": 0, "baseline": "top", "fontSize": 17, "fontWeight": "bold", "color": "#000"},
   "encoding": {
    "x": {"field": "f", "type": "quantitative", "scale": {"type": "log", "domain": [0.05, 5], "nice": false}, "axis": {"values": [0.05, 0.1, 0.2, 0.5, 1, 2, 5], "format": "~g", "title": "Stimulus frequency (kHz)", "labelPadding": 15, "titlePadding": 10}},
    "y": {"field": "v", "type": "quantitative", "scale": {"domain": [-30, 0], "nice": false, "zero": false}, "axis": {"values": [0, -10, -20, -30], "format": "d", "title": "Magnitude (dB)", "labelPadding": 19, "titlePadding": 6}}
   },
   "layer": [
    {"data": {"name": "magC"}, "mark": {"type": "line", "strokeWidth": 1.3}, "encoding": {"stroke": {"field": "lev", "type": "nominal", "scale": {"domain": ["45 dB SPL", "60 dB SPL", "75 dB SPL"], "range": ["#111111", "#666666", "#a6a6a6"]}, "legend": null}, "detail": {"field": "seg"}}},
    {"data": {"name": "magC"}, "mark": {"type": "point", "filled": false, "size": 64, "strokeWidth": 1.2, "opacity": 1}, "encoding": {"color": {"field": "lev", "type": "nominal", "scale": {"domain": ["45 dB SPL", "60 dB SPL", "75 dB SPL"], "range": ["#111111", "#666666", "#a6a6a6"]}, "legend": null}, "shape": {"field": "lev", "type": "nominal", "scale": {"domain": ["45 dB SPL", "60 dB SPL", "75 dB SPL"], "range": ["M-1,0H1M0,-1V1", "M-0.75,-0.75L0.75,0.75M-0.75,0.75L0.75,-0.75", "M-1,0H1M0,-1V1M-0.75,-0.75L0.75,0.75M-0.75,0.75L0.75,-0.75"]}, "legend": null}}},
    {"data": {"name": "cf"}, "transform": [{"filter": "datum.panel === 'mC'"}], "mark": {"type": "circle", "size": 121, "opacity": 1}, "encoding": {"fill": {"field": "lev", "type": "nominal", "scale": {"domain": ["45 dB SPL", "60 dB SPL", "75 dB SPL"], "range": ["#111111", "#666666", "#a6a6a6"]}, "legend": null}}},
    {"data": {"name": "notes"}, "transform": [{"filter": "datum.panel === 'mC'"}], "mark": {"type": "text", "align": "left", "baseline": "middle", "fontSize": 14}, "encoding": {"text": {"field": "label"}}}
   ]
  },
  {"width": 311, "height": 277,
   "encoding": {
    "x": {"field": "f", "type": "quantitative", "scale": {"domain": [0, 2.5], "nice": false}, "axis": {"values": [0, 0.5, 1, 1.5, 2, 2.5], "format": "~g", "title": "Stimulus frequency (kHz)", "labelPadding": 13, "titlePadding": 10}},
    "y": {"field": "v", "type": "quantitative", "scale": {"domain": [-3, 0], "nice": false, "zero": false}, "axis": {"values": [0, -0.5, -1, -1.5, -2, -2.5, -3], "format": "~g", "title": "Phase (cycle)", "labelPadding": 13, "titlePadding": 8}}
   },
   "layer": [
    {"data": {"name": "phC"}, "mark": {"type": "line", "strokeWidth": 1.3}, "encoding": {"stroke": {"field": "lev", "type": "nominal", "scale": {"domain": ["45 dB SPL", "60 dB SPL", "75 dB SPL"], "range": ["#111111", "#666666", "#a6a6a6"]}}, "detail": {"field": "seg"}}},
    {"data": {"name": "phC"}, "mark": {"type": "point", "filled": false, "opacity": 0}, "encoding": {
      "color": {"field": "lev", "type": "nominal", "scale": {"domain": ["45 dB SPL", "60 dB SPL", "75 dB SPL"], "range": ["#111111", "#666666", "#a6a6a6"]}, "legend": {"orient": "none", "legendX": 117, "legendY": 22, "title": null, "labelFontSize": 14, "symbolSize": 4, "symbolStrokeWidth": 1.3, "symbolOpacity": 1, "labelOffset": 67, "rowPadding": 10, "padding": 0}},
      "shape": {"field": "lev", "type": "nominal", "scale": {"domain": ["45 dB SPL", "60 dB SPL", "75 dB SPL"], "range": ["M-7,0H66M29.5,-4.5V4.5", "M-7,0H66M26,-3.5L33,3.5M26,3.5L33,-3.5", "M-7,0H66M29.5,-4.5V4.5M25,0H34M26,-3.5L33,3.5M26,3.5L33,-3.5"]}}}},
    {"data": {"name": "phC"}, "transform": [{"filter": "datum.lev === '45 dB SPL'"}], "mark": {"type": "point", "filled": false, "size": 64, "strokeWidth": 1.2, "opacity": 1, "shape": "M-1,0H1M0,-1V1"}, "encoding": {"color": {"field": "lev", "type": "nominal", "scale": {"domain": ["45 dB SPL", "60 dB SPL", "75 dB SPL"], "range": ["#111111", "#666666", "#a6a6a6"]}}}},
    {"data": {"name": "phC"}, "transform": [{"filter": "datum.lev === '60 dB SPL'"}], "mark": {"type": "point", "filled": false, "size": 64, "strokeWidth": 1.2, "opacity": 1, "shape": "M-0.75,-0.75L0.75,0.75M-0.75,0.75L0.75,-0.75"}, "encoding": {"color": {"field": "lev", "type": "nominal", "scale": {"domain": ["45 dB SPL", "60 dB SPL", "75 dB SPL"], "range": ["#111111", "#666666", "#a6a6a6"]}}}},
    {"data": {"name": "phC"}, "transform": [{"filter": "datum.lev === '75 dB SPL'"}], "mark": {"type": "point", "filled": false, "size": 64, "strokeWidth": 1.2, "opacity": 1, "shape": "M-1,0H1M0,-1V1M-0.75,-0.75L0.75,0.75M-0.75,0.75L0.75,-0.75"}, "encoding": {"color": {"field": "lev", "type": "nominal", "scale": {"domain": ["45 dB SPL", "60 dB SPL", "75 dB SPL"], "range": ["#111111", "#666666", "#a6a6a6"]}}}},
    {"data": {"name": "cf"}, "transform": [{"filter": "datum.panel === 'pC'"}], "mark": {"type": "circle", "size": 121, "opacity": 1}, "encoding": {"fill": {"field": "lev", "type": "nominal", "scale": {"domain": ["45 dB SPL", "60 dB SPL", "75 dB SPL"], "range": ["#111111", "#666666", "#a6a6a6"]}}}},
    {"data": {"name": "notes"}, "transform": [{"filter": "datum.panel === 'pC'"}], "mark": {"type": "text", "align": "right", "baseline": "middle", "fontSize": 14}, "encoding": {"text": {"field": "label"}}}
   ]
  }
]
}
